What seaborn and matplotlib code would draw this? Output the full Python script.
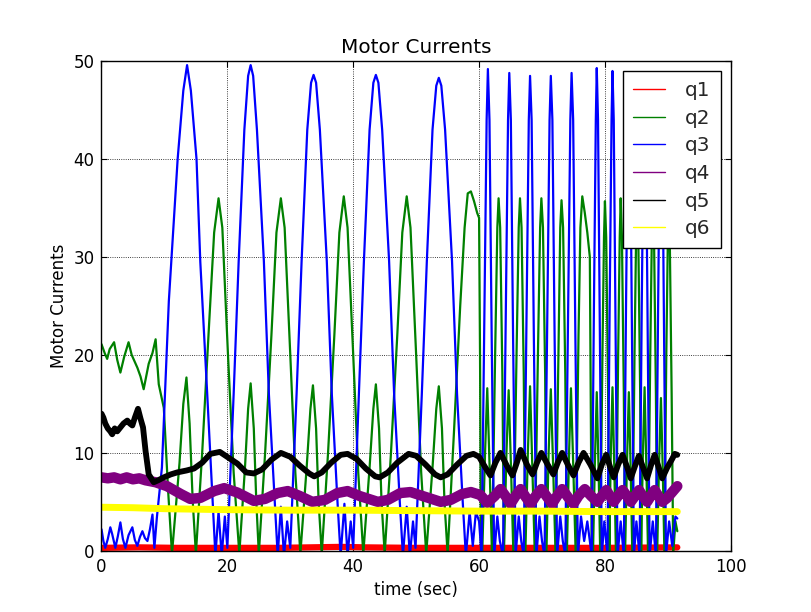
import numpy as np
import pandas as pd
import seaborn as sns
import matplotlib
matplotlib.use("Agg")
import matplotlib.pyplot as plt
from matplotlib.lines import Line2D

# ---- data (time in sec, current) ----
q1_t = [0.0, 6.0, 12.0, 20.0, 28.0, 38.0, 42.0, 50.0, 60.0, 70.0, 80.0, 91.5]
q1_v = [0.30, 0.35, 0.30, 0.30, 0.30, 0.40, 0.35, 0.30, 0.30, 0.30, 0.30, 0.35]

q2_t = [0.0, 0.5, 0.9, 1.3, 2.0, 2.5, 3.0, 3.6, 4.3, 4.8, 5.7, 6.2, 6.7, 7.1, 7.5, 8.1, 8.6,
        9.1, 9.9, 10.6, 11.2,
        12.4, 13.0, 13.5, 14.0, 14.5, 15.0,
        16.0, 17.0, 17.9, 18.6, 19.2, 20.1, 21.0, 21.9,
        22.8, 23.3, 23.7, 24.2, 24.6, 25.0,
        26.0, 27.0, 27.8, 28.5, 29.1, 30.0, 30.8, 31.6,
        32.6, 33.2, 33.6, 34.1, 34.5, 35.0,
        36.0, 37.0, 37.8, 38.5, 39.1, 40.0, 40.8, 41.6,
        42.6, 43.2, 43.6, 44.1, 44.5, 45.0,
        46.0, 47.0, 47.8, 48.5, 49.1, 50.0, 50.8, 51.6,
        52.6, 53.2, 53.6, 54.1, 54.5, 55.0,
        56.0, 57.0, 57.7, 58.2, 58.7, 59.2, 59.7, 60.0, 60.15, 60.3,
        60.5, 60.95, 61.3, 61.65, 62.05, 62.55, 62.9, 63.1, 63.35, 63.7, 63.95,
        64.35, 64.7, 65.05, 65.45, 65.95, 66.3, 66.5, 66.75, 67.1, 67.35,
        67.75, 68.1, 68.45, 68.85, 69.35, 69.7, 69.9, 70.15, 70.5, 70.7,
        71.05, 71.4, 71.75, 72.15, 72.6, 72.9, 73.1, 73.35, 73.7, 73.95,
        74.3, 74.6, 74.95, 75.35, 75.8, 76.1, 76.4, 76.8, 77.2, 77.6, 77.75, 77.9,
        78.1, 78.4, 78.7, 79.0, 79.25, 79.6, 79.85, 80.0, 80.2, 80.5, 80.7,
        80.9, 81.2, 81.5, 81.75, 82.1, 82.35, 82.5, 82.7, 83.0, 83.2,
        83.5, 83.8, 84.1, 84.35, 84.7, 84.95, 85.1, 85.3, 85.6, 85.75,
        86.0, 86.3, 86.6, 86.85, 87.2, 87.45, 87.6, 87.8, 88.1, 88.3,
        88.6, 88.9, 89.2, 89.45, 89.75, 90.0, 90.1, 90.3, 90.6, 90.85, 91.2, 91.5]
q2_v = [21.1, 20.2, 19.6, 20.6, 21.3, 19.5, 18.2, 19.8, 21.3, 20.0, 18.7, 17.8, 16.5, 17.8, 19.1, 20.2, 21.6,
        17.0, 14.6, 6.0, -0.3,
        9.0, 15.0, 17.7, 13.0, 5.0, -0.3,
        10.0, 22.0, 32.5, 36.0, 33.0, 20.0, 8.0, -0.3,
        8.5, 14.5, 17.1, 12.5, 5.0, -0.3,
        10.0, 22.0, 32.5, 36.0, 33.0, 20.0, 8.0, -0.3,
        8.5, 14.5, 16.9, 12.5, 5.0, -0.3,
        10.0, 22.0, 32.5, 36.2, 33.0, 20.0, 8.0, -0.3,
        8.5, 14.5, 17.0, 12.5, 5.0, -0.3,
        10.0, 22.0, 32.5, 36.2, 33.0, 20.0, 8.0, -0.3,
        8.5, 14.5, 16.8, 12.5, 5.0, -0.3,
        12.0, 25.0, 33.0, 36.5, 36.7, 35.7, 34.5, 34.0, 20.0, -0.3,
        -0.3, 10.0, 16.6, 9.0, -0.3, 20.0, 33.0, 36.0, 33.0, 18.0, -0.3,
        10.0, 16.4, 9.0, -0.3, 20.0, 33.0, 36.0, 33.0, 18.0, -0.3,
        10.0, 16.8, 9.0, -0.3, 20.0, 33.0, 36.0, 33.0, 18.0, -0.3,
        10.0, 16.5, 9.0, -0.3, 20.0, 33.0, 35.8, 33.0, 18.0, -0.3,
        10.0, 16.6, 9.0, -0.3, 22.0, 33.0, 36.2, 34.5, 32.5, 30.0, 15.0, -0.3,
        -0.3, 9.0, 16.2, 8.0, -0.3, 20.0, 32.0, 35.7, 32.0, 16.0, -0.3,
        9.0, 16.7, 8.0, -0.3, 20.0, 32.0, 36.0, 32.0, 16.0, -0.3,
        9.0, 16.2, 8.0, -0.3, 20.0, 32.0, 35.5, 32.0, 16.0, -0.3,
        9.0, 16.7, 8.0, -0.3, 20.0, 32.0, 35.5, 32.0, 16.0, -0.3,
        9.0, 15.6, 8.0, -0.3, 20.0, 32.0, 35.0, 32.0, 16.0, -0.3, 3.0, 2.0]

q3_t = [0.0, 0.3, 0.6, 1.0, 1.4, 1.7, 2.2, 2.6, 3.0, 3.4, 3.8, 4.3, 4.9, 5.3, 5.7, 6.1, 6.5, 6.9,
        7.3, 7.7, 8.1, 8.4, 8.8, 9.6,
        10.7, 12.1, 13.0, 13.6, 14.2, 15.1, 15.7, 16.8, 17.6, 18.1, 18.6, 19.1, 19.6, 20.0,
        21.0, 21.8, 22.7, 23.3, 23.7, 24.1, 24.7, 25.8, 26.6, 27.5, 28.0, 28.5, 29.0, 29.5, 30.0,
        31.0, 31.8, 32.7, 33.3, 33.7, 34.1, 34.7, 35.8, 36.6, 37.5, 38.0, 38.6, 39.1, 39.6, 40.0,
        40.9, 41.7, 42.6, 43.2, 43.6, 44.0, 44.6, 45.7, 46.5, 47.4, 47.9, 48.5, 49.0, 49.5, 49.9,
        50.9, 51.7, 52.6, 53.2, 53.6, 54.0, 54.6, 55.7, 56.5, 57.4, 57.9, 58.5, 59.0, 59.5, 60.0,
        60.4, 60.85, 61.2, 61.4, 61.65, 62.0, 62.4, 62.9, 63.3,
        63.8, 64.25, 64.6, 64.8, 65.05, 65.4, 65.8, 66.3, 66.7,
        67.1, 67.55, 67.9, 68.1, 68.35, 68.7, 69.1, 69.6, 70.0,
        70.4, 70.85, 71.2, 71.4, 71.65, 72.0, 72.4, 72.9, 73.3,
        73.7, 74.15, 74.5, 74.7, 74.95, 75.3, 75.7, 76.2, 76.7, 77.2, 77.7,
        77.9, 78.25, 78.55, 78.7, 78.9, 79.2, 79.5, 79.9,
        80.4, 80.75, 81.05, 81.2, 81.4, 81.7, 82.0, 82.5,
        83.0, 83.35, 83.65, 83.8, 84.0, 84.3, 84.6, 85.0,
        85.5, 85.85, 86.15, 86.3, 86.5, 86.8, 87.1, 87.6,
        88.1, 88.45, 88.75, 88.9, 89.1, 89.4, 89.7, 90.2, 90.7, 91.2, 91.5]
q3_v = [2.2, 1.0, 0.3, 1.2, 2.4, 1.7, 0.3, 1.5, 2.9, 1.2, 0.3, 1.6, 2.4, 1.1, 0.5, 1.4, 2.0, 1.3,
        1.0, 2.2, 3.7, 0.3, 3.4, 8.5,
        25.5, 40.0, 47.0, 49.6, 47.0, 40.0, 29.5, 16.0, 5.8, -0.5, 4.0, -0.5, 3.5, 0.3,
        16.0, 29.6, 43.0, 48.5, 49.6, 48.5, 43.0, 29.6, 16.0, 5.5, -0.5, 4.5, -0.5, 3.0, 0.3,
        16.0, 29.6, 43.0, 47.8, 48.6, 47.8, 43.0, 29.6, 16.0, 5.0, -0.5, 4.8, -0.5, 3.0, 0.3,
        16.0, 29.6, 43.0, 47.8, 48.6, 47.8, 43.0, 29.6, 16.0, 5.0, -0.5, 4.5, -0.5, 3.0, 0.3,
        16.0, 29.6, 43.0, 47.5, 48.3, 47.5, 43.0, 29.6, 16.0, 5.0, -0.5, 4.0, 0.5, 4.0, 3.0,
        -0.5, 25.0, 44.0, 49.2, 44.0, 22.0, -0.5, 3.5, 1.0,
        -0.5, 25.0, 44.0, 48.8, 44.0, 22.0, -0.5, 3.5, 1.0,
        -0.5, 25.0, 44.0, 48.5, 44.0, 22.0, -0.5, 3.5, 1.0,
        -0.5, 25.0, 44.0, 48.5, 44.0, 22.0, -0.5, 3.5, 1.0,
        -0.5, 25.0, 44.0, 48.8, 44.0, 22.0, -0.5, 3.5, 1.0, 3.0, 0.5,
        -0.5, 25.0, 44.0, 49.3, 44.0, 22.0, -0.5, 3.0,
        -0.5, 25.0, 44.0, 49.0, 44.0, 22.0, -0.5, 3.0,
        -0.5, 25.0, 44.0, 48.8, 44.0, 22.0, -0.5, 3.0,
        -0.5, 25.0, 44.0, 48.8, 44.0, 22.0, -0.5, 3.0,
        -0.5, 25.0, 44.0, 48.5, 44.0, 22.0, -0.5, 3.0, 0.5, 3.5, 3.3]

q4_t = [0.0, 1.0, 2.0, 3.0, 4.0, 5.0, 6.0, 7.0, 8.6, 10.4, 12.6, 14.1, 15.7, 17.9, 19.5, 21.6,
        24.2, 26.0, 28.0, 29.6, 31.5, 33.5, 35.5, 37.5, 39.1, 41.0, 43.9, 45.5, 47.5, 49.1,
        51.0, 53.9, 55.5, 57.3, 58.7, 60.2, 61.3, 62.5, 63.4, 64.3, 65.0, 65.8, 66.6, 67.4,
        68.2, 69.0, 69.9, 70.8, 71.6, 72.4, 73.2, 74.1, 75.0, 75.8, 76.8, 77.8, 78.8, 79.5,
        80.2, 80.8, 81.4, 82.1, 82.8, 83.5, 84.1, 84.8, 85.4, 86.0, 86.7, 87.3, 87.9, 88.5,
        89.1, 89.9, 90.7, 91.5]
q4_v = [7.5, 7.4, 7.5, 7.3, 7.5, 7.3, 7.4, 7.2, 7.0, 6.6, 5.8, 5.3, 5.4, 6.1, 6.4, 5.95,
        5.1, 5.3, 5.9, 6.1, 5.6, 5.0, 5.2, 5.9, 6.1, 5.6, 5.0, 5.2, 5.9, 6.0,
        5.6, 5.0, 5.2, 5.8, 6.0, 5.7, 4.9, 5.6, 6.3, 5.5, 4.8, 5.6, 6.3, 5.5,
        4.8, 5.6, 6.3, 5.5, 4.8, 5.6, 6.3, 5.5, 4.8, 5.6, 6.3, 5.6, 5.0, 5.6,
        6.2, 5.6, 5.0, 5.6, 6.2, 5.6, 5.0, 5.6, 6.2, 5.6, 5.0, 5.6, 6.2, 5.6,
        5.0, 5.4, 6.0, 6.6]

q5_t = [0.0, 0.3, 0.6, 1.0, 1.4, 1.7, 2.1, 2.5, 3.0, 3.5, 4.1, 4.5, 4.9, 5.3, 5.8, 6.2, 6.6,
        7.0, 7.5, 8.3, 9.0, 9.9, 11.0, 12.0, 13.5, 14.7, 16.0, 17.3, 18.8, 20.2, 21.6, 23.0,
        24.2, 25.5, 27.0, 28.5, 30.0, 31.5, 33.0, 33.8, 35.0, 36.5, 38.0, 39.1, 40.5, 42.0,
        43.5, 44.2, 45.5, 47.0, 48.8, 50.0, 51.5, 53.0, 53.9, 55.0, 56.5, 58.0, 59.1, 60.0,
        61.0, 61.8, 62.6, 63.4, 64.4, 65.3, 66.0, 66.6, 67.6, 68.5, 69.2, 69.9, 70.9, 71.8,
        72.5, 73.2, 74.1, 75.0, 75.8, 76.6, 77.7, 78.8, 79.5, 80.2, 80.8, 81.4, 82.1, 82.8,
        83.5, 84.1, 84.8, 85.4, 86.0, 86.7, 87.3, 87.9, 88.5, 89.1, 89.9, 90.7, 91.1, 91.5]
q5_v = [14.0, 13.6, 13.0, 12.5, 12.2, 11.9, 12.5, 12.2, 12.6, 13.0, 13.3, 13.0, 12.8, 13.6, 14.5, 13.5, 12.6,
        10.2, 7.8, 7.0, 7.2, 7.5, 7.8, 8.0, 8.2, 8.4, 9.0, 9.9, 10.1, 9.5, 8.9, 8.0,
        7.9, 8.3, 9.3, 10.0, 9.6, 8.7, 7.9, 7.6, 8.0, 9.0, 9.8, 9.9, 9.4, 8.4,
        7.6, 7.5, 8.0, 9.0, 9.9, 9.7, 8.8, 7.8, 7.5, 7.8, 8.8, 9.7, 9.9, 9.6,
        8.5, 7.7, 9.0, 10.0, 8.7, 7.7, 9.0, 10.3, 8.8, 7.8, 9.0, 10.0, 8.8, 7.8,
        9.0, 10.0, 8.8, 7.7, 9.0, 10.0, 8.8, 7.4, 8.8, 9.8, 8.6, 7.5, 8.8, 9.8,
        8.6, 7.4, 8.7, 9.7, 8.6, 7.4, 8.7, 9.8, 8.6, 7.4, 8.5, 9.4, 9.9, 9.8]

q6_t = [0.0, 5.0, 10.0, 20.0, 30.0, 40.0, 50.0, 60.0, 70.0, 80.0, 91.5]
q6_v = [4.45, 4.4, 4.3, 4.2, 4.15, 4.15, 4.1, 4.05, 4.05, 4.0, 4.0]

names = ["q1", "q2", "q3", "q4", "q5", "q6"]
colors = ["red", "green", "blue", "purple", "black", "yellow"]
widths = [4.5, 1.6, 1.6, 7.5, 4.2, 5.0]  # thick strokes stand in for the sensor noise band
series = [(q1_t, q1_v), (q2_t, q2_v), (q3_t, q3_v), (q4_t, q4_v), (q5_t, q5_v), (q6_t, q6_v)]

sns.set_theme(style="ticks")
plt.rcParams["font.family"] = ["DejaVu Sans"]
plt.rcParams["xtick.direction"] = "in"
plt.rcParams["ytick.direction"] = "in"

fig = plt.figure(figsize=(8.12, 6.12), dpi=100)
ax = fig.add_axes([0.125, 0.1, 0.775, 0.8])

for (t, v), name, c, lw in zip(series, names, colors, widths):
    df = pd.DataFrame({"time": t, "current": v})
    sns.lineplot(data=df, x="time", y="current", ax=ax, color=c, linewidth=lw,
                 estimator=None, sort=False, legend=False)

ax.set_xlim(0, 100)
ax.set_ylim(0, 50)
ax.set_xticks([0, 20, 40, 60, 80, 100])
ax.set_yticks([0, 10, 20, 30, 40, 50])
ax.tick_params(axis="both", which="major", labelsize=12, length=4, width=0.8,
               top=True, right=True, color="black", labelcolor="black", pad=5)
for sp in ax.spines.values():
    sp.set_visible(True)
    sp.set_color("black")
    sp.set_linewidth(1.0)
ax.grid(True, color="black", linestyle=":", linewidth=0.6)

ax.set_title("Motor Currents", fontsize=14.4, color="black")
ax.set_xlabel("time (sec)", fontsize=12, color="black")
ax.set_ylabel("Motor Currents", fontsize=12, color="black")

handles = [Line2D([0], [0], color=c, lw=1.0) for c in colors]
leg = ax.legend(handles, names, loc="upper right", fontsize=14.4, frameon=True, fancybox=False,
                framealpha=1.0, edgecolor="black", handlelength=1.6, handletextpad=1.0,
                labelspacing=0.43, borderpad=0.5, borderaxespad=0.5)
leg.get_frame().set_linewidth(1.0)

fig.savefig("out.png", dpi=100, facecolor="white")
